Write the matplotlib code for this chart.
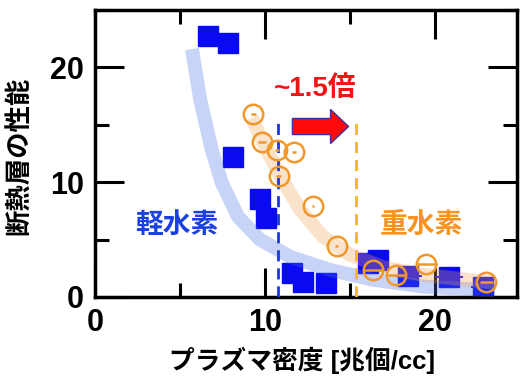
import numpy as np
import matplotlib
matplotlib.use("Agg")
import matplotlib.pyplot as plt
from matplotlib.ticker import MultipleLocator

plt.rcParams['font.family'] = ['Liberation Sans', 'Noto Sans CJK JP', 'DejaVu Sans']
plt.rcParams['font.weight'] = 'bold'

# 軽水素 (light hydrogen) - blue squares
h_x = [6.65, 7.8, 8.1, 9.7, 10.06, 11.56, 12.2, 13.6, 16.06, 16.65, 18.4, 20.8, 22.8]
h_y = [22.7, 22.1, 12.2, 8.5, 6.9, 2.05, 1.27, 1.18, 2.97, 3.2, 1.85, 1.75, 0.9]
h_xerr = [0.1, 0.1, 0.1, 0.1, 0.1, 0.1, 0.1, 0.1, 0.6, 0.6, 0.8, 0.8, 0.7]

# 重水素 (deuterium) - orange open circles
d_x = [9.3, 9.8, 10.7, 11.7, 10.8, 12.8, 14.2, 16.35, 17.7, 19.47, 23.0]
d_y = [15.9, 13.5, 12.8, 12.6, 10.5, 7.9, 4.45, 2.36, 1.92, 2.88, 1.3]
d_xerr = [0.15, 0.25, 0.1, 0.1, 0.15, 0.05, 0.1, 0.6, 0.6, 0.6, 0.4]

# guide bands
hb_x = [5.7, 6.18, 6.86, 7.45, 8.4, 9.7, 11.47, 13.8, 16.35, 19.3, 23.5]
hb_y = [21.6, 17.2, 12.84, 9.95, 7.0, 5.0, 3.5, 2.36, 1.5, 0.9, 0.55]
db_x = [9.2, 10.1, 11.0, 12.06, 13.4, 15.0, 16.95, 19.3, 23.5]
db_y = [15.6, 12.8, 10.2, 7.6, 5.25, 3.67, 2.6, 1.92, 1.25]

h_line = 10.75
d_line = 15.35
line_top = 15.7

blue = '#0a0af0'
orange = '#f0982a'

fig = plt.figure(figsize=(5.26, 3.81), dpi=100)
ax = fig.add_axes([0.1806, 0.2205, 0.8024, 0.7533])

ax.plot(h_x, h_y, 's', color=blue, ms=14.4, zorder=2)
ax.errorbar(h_x, h_y, xerr=h_xerr, fmt='none', ecolor=blue, elinewidth=1.5, capsize=0, zorder=2)

ax.plot(hb_x, hb_y, color='#4a6fe8', alpha=0.3, lw=10, solid_capstyle='butt',
        solid_joinstyle='round', zorder=3)
ax.plot(db_x, db_y, color='#f2a255', alpha=0.3, lw=10, solid_capstyle='butt',
        solid_joinstyle='round', zorder=3)

ax.plot([h_line, h_line], [0, line_top], color='#1a3ad8', lw=2, ls=(0, (4, 2.5)), zorder=4)
ax.plot([d_line, d_line], [0, line_top], color='#f5b81a', lw=2, ls=(0, (4, 2.5)), zorder=4)

ax.errorbar(d_x, d_y, xerr=d_xerr, fmt='o', mfc='none', mec=orange, mew=1.8, ms=14,
            ecolor=orange, elinewidth=1.8, capsize=0, zorder=5)

ax.arrow(11.6, 14.85, 3.3, 0, width=1.4, head_width=2.97, head_length=1.06,
         length_includes_head=True, fc='#ff0a0a', ec='#4030a0', lw=1, zorder=6)

ax.text(12.94, 18.1, '~1.5倍', color='#f01414', fontsize=20, fontweight='bold',
        ha='center', va='center')
ax.text(4.8, 6.2, '軽水素', color='#1a40e0', fontsize=20, fontweight='bold',
        ha='center', va='center')
ax.text(19.2, 6.1, '重水素', color='#f7931e', fontsize=20, fontweight='bold',
        ha='center', va='center')

ax.set_xlim(0, 24.8)
ax.set_ylim(0, 25)
ax.xaxis.set_major_locator(MultipleLocator(10))
ax.xaxis.set_minor_locator(MultipleLocator(5))
ax.yaxis.set_major_locator(MultipleLocator(10))
ax.yaxis.set_minor_locator(MultipleLocator(5))
ax.tick_params(which='both', direction='in', top=True, right=True, width=2.2,
               labelsize=22, pad=8)
ax.tick_params(which='major', length=21)
ax.tick_params(which='minor', length=10)
for s in ax.spines.values():
    s.set_linewidth(2.5)
for lab in ax.get_xticklabels() + ax.get_yticklabels():
    lab.set_fontweight('bold')

ax.set_xlabel('プラズマ密度 [兆個/cc]', fontsize=18.5, fontweight='bold')
ax.set_ylabel('断熱層の性能', fontsize=19, fontweight='bold')
ax.xaxis.set_label_coords(0.49, -0.22)
ax.xaxis.label.set_va('center')
ax.yaxis.set_label_coords(-0.178, 0.49)
ax.yaxis.label.set_va('center')

fig.savefig('out.png', dpi=100)
